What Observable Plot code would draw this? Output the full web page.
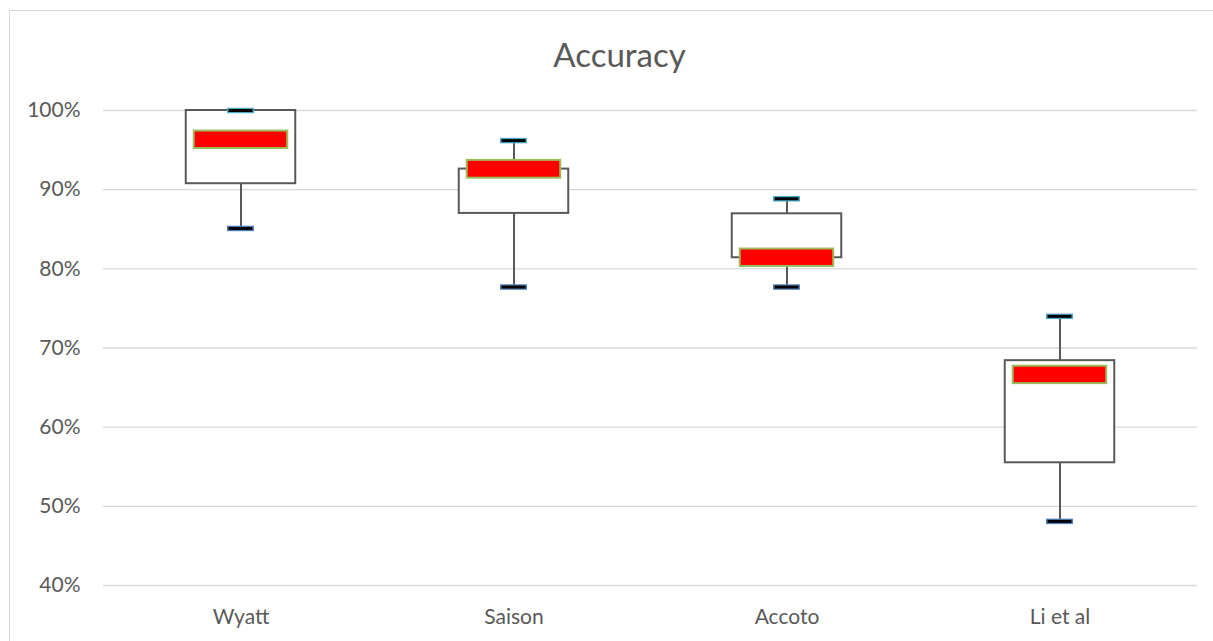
<!DOCTYPE html>
<html>
<head>
<meta charset="utf-8">
<script src="https://cdn.jsdelivr.net/npm/d3@7"></script>
<script src="https://cdn.jsdelivr.net/npm/@observablehq/plot@0.6"></script>
<style>
  html, body { margin: 0; padding: 0; background: #fff; overflow: hidden; }
  #wrap { position: relative; width: 1213px; height: 641px; overflow: hidden; }
  #frame { position: absolute; left: 9px; top: 10px; width: 1220px; height: 700px; border: 1.3px solid #d9d9d9; box-sizing: border-box; }
  #title { position: relative; height: 90px; box-sizing: border-box; padding-top: 35px; padding-left: 26px; text-align: center; font-family: Lato, sans-serif; font-size: 33px; line-height: 1.2; color: #595959; }
  #chart { position: relative; }
</style>
</head>
<body>
<div id="wrap">
  <div id="frame"></div>
  <div id="title">Accuracy</div>
  <div id="chart"></div>
</div>
<script>
const categories = ["Wyatt", "Saison", "Accoto", "Li et al"];
const whiskerMax = [1.000, 0.962, 0.8885, 0.740];
const q3 = [1.000, 0.926, 0.8695, 0.684];
const q1 = [0.9075, 0.870, 0.814, 0.555];
const whiskerMin = [0.851, 0.777, 0.777, 0.481];
const redTop = [0.974, 0.937, 0.825, 0.677];
const redBottom = [0.952, 0.9145, 0.803, 0.655];
const yTicks = [0.4, 0.5, 0.6, 0.7, 0.8, 0.9, 1.0];

const rows = categories.map((c, i) => ({
  cat: c, wmax: whiskerMax[i], q3: q3[i], q1: q1[i], wmin: whiskerMin[i], rt: redTop[i], rb: redBottom[i]
}));

const chart = Plot.plot({
  width: 1213,
  height: 551,
  marginLeft: 103,
  marginRight: 16,
  marginTop: 20,
  marginBottom: 56,
  style: { fontFamily: "Lato, sans-serif", fontSize: "21px", color: "#595959", background: "transparent", overflow: "visible" },
  x: { domain: categories, padding: 0, label: null, tickSize: 0, tickPadding: 24 },
  y: { domain: [0.4, 1.0], ticks: yTicks, tickFormat: d => Math.round(d * 100) + "%", label: null, tickSize: 0, tickPadding: 23 },
  marks: [
    Plot.ruleY(yTicks, { stroke: "#d9d9d9", strokeWidth: 1.3 }),
    Plot.ruleX(rows, { x: "cat", y1: "wmin", y2: "q1", stroke: "#595959", strokeWidth: 2 }),
    Plot.ruleX(rows, { x: "cat", y1: "q3", y2: "wmax", stroke: "#595959", strokeWidth: 2 }),
    Plot.barY(rows, { x: "cat", y1: "q1", y2: "q3", fill: "#ffffff", stroke: "#595959", strokeWidth: 2, insetLeft: 81.75, insetRight: 81.75 }),
    Plot.barY(rows, { x: "cat", y1: "rb", y2: "rt", fill: "#ff0000", stroke: "#9bbb59", strokeWidth: 2, insetLeft: 89.75, insetRight: 89.75 }),
    Plot.tickY(rows, { x: "cat", y: "wmax", stroke: "#4bacc6", strokeWidth: 5.5, insetLeft: 123, insetRight: 123 }),
    Plot.tickY(rows, { x: "cat", y: "wmax", stroke: "#000000", strokeWidth: 3, insetLeft: 124.5, insetRight: 124.5 }),
    Plot.tickY(rows, { x: "cat", y: "wmin", stroke: "#4f81bd", strokeWidth: 5.5, insetLeft: 123, insetRight: 123 }),
    Plot.tickY(rows, { x: "cat", y: "wmin", stroke: "#000000", strokeWidth: 3, insetLeft: 124.5, insetRight: 124.5 })
  ]
});
document.getElementById("chart").appendChild(chart);
</script>
</body>
</html>
